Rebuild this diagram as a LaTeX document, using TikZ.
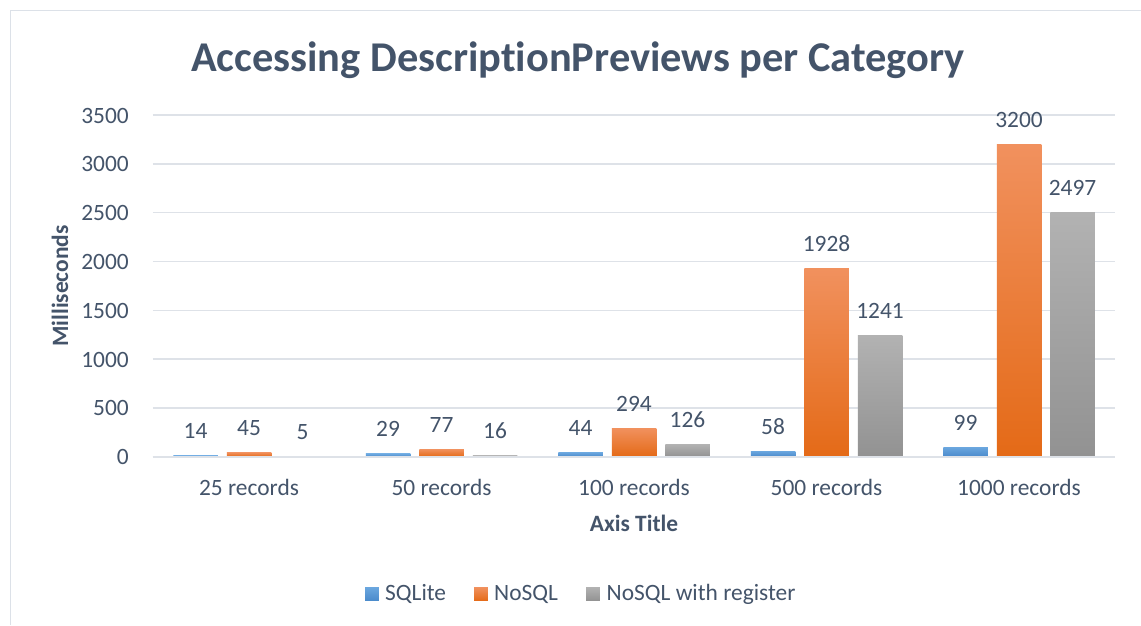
\documentclass[tikz,border=0pt]{standalone}
\usepackage{fontspec}
\setmainfont{Carlito}[Ligatures=NoCommon]
\definecolor{txt}{HTML}{44546A}
\definecolor{gridc}{HTML}{DEE2E8}
\definecolor{framec}{HTML}{DCE1E8}
\definecolor{blueT}{HTML}{6BA7DF}
\definecolor{blueB}{HTML}{4A8ACB}
\definecolor{oranT}{HTML}{F1915E}
\definecolor{oranB}{HTML}{E46A17}
\definecolor{grayT}{HTML}{B2B2B2}
\definecolor{grayB}{HTML}{929292}
\begin{document}
\begin{tikzpicture}[x=1pt,y=-1pt,
  lbl/.style={font=\fontsize{23.4}{28}\selectfont, text=txt, inner sep=0pt},
  blbl/.style={lbl, font=\fontsize{23.4}{28}\selectfont\bfseries},
  gridline/.style={draw=gridc, line width=1.5pt},
  sqlbar/.style={top color=blueT, bottom color=blueB},
  nosqlbar/.style={top color=oranT, bottom color=oranB},
  regbar/.style={top color=grayT, bottom color=grayB},
  keybox/.style={minimum size=13.7pt, inner sep=0pt, anchor=south west}
]
\useasboundingbox (0,0) rectangle (1141,625);
\fill[white] (0,0) rectangle (1141,625);
% chart frame (top and left edges)
\draw[framec, line width=1.5pt] (10.5,625) -- (10.5,10.5) -- (1141,10.5);

% title
\node[lbl, font=\fontsize{42.4}{50}\selectfont\bfseries, anchor=base] (title) at (578,71) {Accessing DescriptionPreviews per Category};

% value axis: gridlines and tick labels
\foreach \v in {0,500,...,3500}{
  \pgfmathsetmacro{\yy}{456.7-\v*0.09763}
  \coordinate (gl\v) at (152.75,\yy);
  \coordinate (gr\v) at (1115.25,\yy);
  \draw[gridline] (gl\v) -- (gr\v);
  \node[lbl, anchor=base east] (tick\v) at (129,\yy+8) {\v};
}

% bars, data labels and category labels
\foreach \i/\a/\b/\c/\cat in {0/14/45/5/25 records, 1/29/77/16/50 records, 2/44/294/126/100 records, 3/58/1928/1241/500 records, 4/99/3200/2497/1000 records}{
  \pgfmathsetmacro{\cx}{249+\i*192.5}
  \pgfmathsetmacro{\ya}{456.7-\a*0.09763}
  \pgfmathsetmacro{\yb}{456.7-\b*0.09763}
  \pgfmathsetmacro{\yc}{456.7-\c*0.09763}
  \shade[sqlbar]   (\cx-53.5-22.25,456.7) rectangle (\cx-53.5+22.25,\ya);
  \shade[nosqlbar] (\cx-22.25,456.7) rectangle (\cx+22.25,\yb);
  \shade[regbar]   (\cx+53.5-22.25,456.7) rectangle (\cx+53.5+22.25,\yc);
  \node[lbl, anchor=base] (va\i) at (\cx-53.5,\ya-17) {\a};
  \node[lbl, anchor=base] (vb\i) at (\cx,\yb-17) {\b};
  \node[lbl, anchor=base] (vc\i) at (\cx+53.5,\yc-17) {\c};
  \node[lbl, anchor=base] (cat\i) at (\cx,495) {\cat};
}
\draw[gridline, line width=2pt] (gl0) -- (gr0);

% axis titles
\node[blbl, anchor=base] (xtitle) at (634,531) {Axis Title};
\node[blbl, rotate=90, anchor=base] (ytitle) at (68,286) {Milliseconds};

% legend
\node[keybox, sqlbar] (k1) at (365,601) {};
\node[lbl, anchor=base west] (l1) at (385,600.7) {SQLite};
\node[keybox, nosqlbar] (k2) at (474,601) {};
\node[lbl, anchor=base west] (l2) at (494,600.7) {NoSQL};
\node[keybox, regbar] (k3) at (586,601) {};
\node[lbl, anchor=base west] (l3) at (606.5,600.7) {NoSQL with register};
\end{tikzpicture}
\end{document}
